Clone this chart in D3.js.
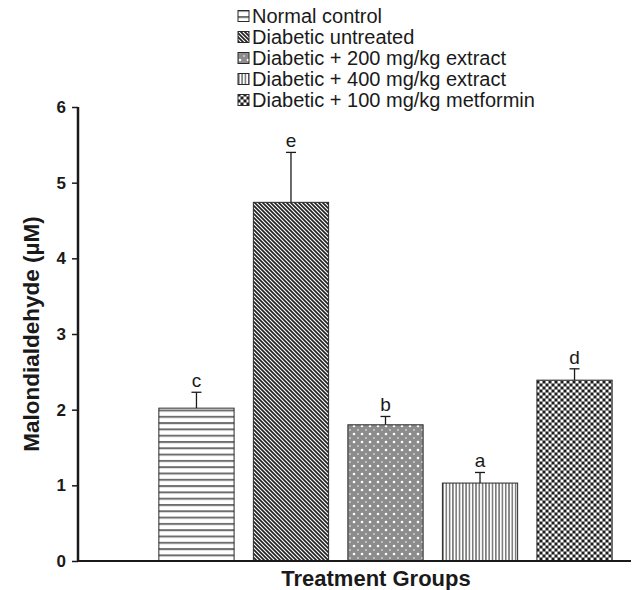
<!DOCTYPE html>
<html>
<head>
<meta charset="utf-8">
<script src="https://cdn.jsdelivr.net/npm/d3@7"></script>
<style>
 body { margin: 0; background: #fff; }
 text { font-family: "Liberation Sans", Arial, sans-serif; fill: #1a1a1a; }
</style>
</head>
<body>
<svg id="chart" width="633" height="590"></svg>
<script>
"use strict";

// data
var groups = ["Normal control", "Diabetic untreated", "Diabetic + 200 mg/kg extract",
              "Diabetic + 400 mg/kg extract", "Diabetic + 100 mg/kg metformin"];
var means = [2.02, 4.74, 1.80, 1.03, 2.39];
var errors = [0.21, 0.66, 0.11, 0.14, 0.15];
var letters = ["c", "e", "b", "a", "d"];
var yTicks = [0, 1, 2, 3, 4, 5, 6];
var patterns = ["hlines", "diag", "dots", "vlines", "checks"];

var svg = d3.select("#chart");
var defs = svg.append("defs");

// fill patterns
var p;
p = defs.append("pattern").attr("id", "hlines").attr("patternUnits", "userSpaceOnUse")
  .attr("width", 8).attr("height", 6.3);
p.append("rect").attr("width", 8).attr("height", 6.3).attr("fill", "#fff");
p.append("rect").attr("y", 0).attr("width", 8).attr("height", 2).attr("fill", "#6e6e6e");

p = defs.append("pattern").attr("id", "diag").attr("patternUnits", "userSpaceOnUse")
  .attr("width", 4).attr("height", 4);
p.append("rect").attr("width", 4).attr("height", 4).attr("fill", "#fff");
p.append("path").attr("d", "M-1,-1L5,5M-1,3L1,5M3,-1L5,1")
  .attr("stroke", "#222").attr("stroke-width", 1.7);

p = defs.append("pattern").attr("id", "dots").attr("patternUnits", "userSpaceOnUse")
  .attr("width", 8).attr("height", 8);
p.append("rect").attr("width", 8).attr("height", 8).attr("fill", "#8c8c8c");
p.append("circle").attr("cx", 2).attr("cy", 2).attr("r", 1.3).attr("fill", "#fff");
p.append("circle").attr("cx", 6).attr("cy", 6).attr("r", 0.9).attr("fill", "#d8d8d8");

p = defs.append("pattern").attr("id", "vlines").attr("patternUnits", "userSpaceOnUse")
  .attr("width", 3.3).attr("height", 6);
p.append("rect").attr("width", 3.3).attr("height", 6).attr("fill", "#fff");
p.append("rect").attr("width", 1.6).attr("height", 6).attr("fill", "#7a7a7a");

p = defs.append("pattern").attr("id", "checks").attr("patternUnits", "userSpaceOnUse")
  .attr("width", 6).attr("height", 6);
p.append("rect").attr("width", 6).attr("height", 6).attr("fill", "#8a8a8a");
p.append("rect").attr("x", 0).attr("y", 0).attr("width", 2).attr("height", 2).attr("fill", "#1e1e1e");
p.append("rect").attr("x", 3).attr("y", 3).attr("width", 2).attr("height", 2).attr("fill", "#1e1e1e");
p.append("rect").attr("x", 3).attr("y", 0).attr("width", 2).attr("height", 2).attr("fill", "#fff");
p.append("rect").attr("x", 0).attr("y", 3).attr("width", 2).attr("height", 2).attr("fill", "#fff");

// scales
var axisLeft = 78, axisRight = 631, y0 = 561, yTop = 107;

var x = d3.scaleBand()
  .domain(groups)
  .range([149.4, 621.6])
  .paddingInner(0.204)
  .paddingOuter(0.1);

var y = d3.scaleLinear().domain([0, 6]).range([y0, yTop]);

// bars
var bars_g = svg.append("g");
bars_g.selectAll("rect")
  .data(groups)
  .enter()
  .append("rect")
  .attr("x", function(d) { return x(d); })
  .attr("y", function(d, i) { return y(means[i]); })
  .attr("width", x.bandwidth())
  .attr("height", function(d, i) { return y0 - y(means[i]); })
  .attr("fill", function(d, i) { return "url(#" + patterns[i] + ")"; })
  .attr("stroke", "#2a2a2a")
  .attr("stroke-width", 1);

// error bars
var err_g = svg.append("g").attr("stroke", "#1a1a1a").attr("stroke-width", 1.3);
groups.forEach(function(d, i) {
  var cx = x(d) + x.bandwidth() / 2;
  var top = y(means[i] + errors[i]);
  err_g.append("line").attr("x1", cx).attr("x2", cx)
    .attr("y1", y(means[i])).attr("y2", top);
  err_g.append("line").attr("x1", cx - 5).attr("x2", cx + 5)
    .attr("y1", top).attr("y2", top);
  svg.append("text")
    .attr("x", cx).attr("y", top - 5)
    .attr("text-anchor", "middle")
    .style("font-size", "19px")
    .text(letters[i]);
});

// axes
var yAxis = d3.axisLeft(y).tickValues(yTicks).tickSize(6).tickPadding(6).tickFormat(d3.format("d"));
var yAxis_g = svg.append("g").attr("transform", "translate(" + axisLeft + ",0)").call(yAxis);
yAxis_g.select(".domain").remove();
yAxis_g.selectAll(".tick line").attr("stroke", "#1a1a1a").attr("stroke-width", 1.5);
yAxis_g.selectAll(".tick text")
  .style("font-family", "'Liberation Sans', Arial, sans-serif")
  .style("font-size", "17px").style("font-weight", "bold").attr("fill", "#1a1a1a");

svg.append("line").attr("x1", axisLeft).attr("x2", axisLeft)
  .attr("y1", yTop).attr("y2", y0 + 1)
  .attr("stroke", "#1a1a1a").attr("stroke-width", 2.5);
svg.append("line").attr("x1", axisLeft - 1).attr("x2", axisRight)
  .attr("y1", y0).attr("y2", y0)
  .attr("stroke", "#1a1a1a").attr("stroke-width", 2);

// axis titles
svg.append("text")
  .attr("transform", "translate(39," + ((y0 + yTop) / 2) + ") rotate(-90)")
  .attr("text-anchor", "middle")
  .style("font-size", "22.5px").style("font-weight", "bold")
  .text("Malondialdehyde (\u00b5M)");

svg.append("text")
  .attr("x", 376).attr("y", 586)
  .attr("text-anchor", "middle")
  .style("font-size", "22px").style("font-weight", "bold")
  .text("Treatment Groups");

// legend
var legend_g = svg.append("g");
var legend_items = legend_g.selectAll(".legend_item")
  .data(groups)
  .enter()
  .append("g")
  .attr("class", "legend_item")
  .attr("transform", function(d, i) { return "translate(238," + (16 + i * 21) + ")"; });

legend_items.append("rect")
  .attr("x", 0).attr("y", -5.5).attr("width", 11).attr("height", 11)
  .attr("fill", function(d, i) { return "url(#" + patterns[i] + ")"; })
  .attr("stroke", "#2a2a2a").attr("stroke-width", 1);

legend_items.append("text")
  .attr("x", 14).attr("y", 7)
  .style("font-size", "20px")
  .text(function(d) { return d; });
</script>
</body>
</html>
